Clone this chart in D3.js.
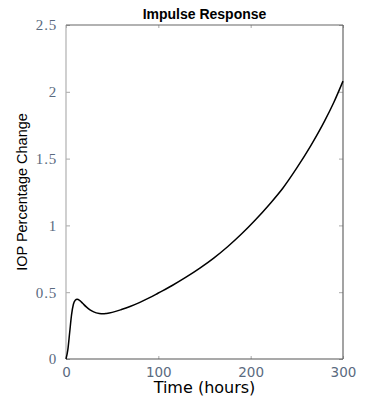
<!DOCTYPE html>
<html lang="en">
<head>
<meta charset="UTF-8">
<title>Impulse Response</title>
<script src="https://d3js.org/d3.v7.min.js"></script>
<style>
  body { margin: 0; background: #fff; }
</style>
</head>
<body>
<div id="impulse"></div>
<script>
// values
var timeHours = [0, 2, 4, 6, 8, 10, 12, 15, 18, 22, 26, 30, 36, 40, 44, 50, 60, 70, 80, 90, 100,
                 115, 130, 145, 160, 175, 190, 205, 220, 235, 250, 265, 280, 290, 300];
var iopChange = [0, 0.07, 0.2, 0.33, 0.41, 0.44, 0.447, 0.437, 0.417, 0.39, 0.368, 0.353, 0.341, 0.338,
                 0.341, 0.349, 0.37, 0.395, 0.424, 0.457, 0.494, 0.55, 0.612, 0.68, 0.755, 0.84, 0.935,
                 1.04, 1.155, 1.28, 1.43, 1.595, 1.78, 1.92, 2.08];
var xTicks = [0, 100, 200, 300];
var yTicks = [0, 0.5, 1, 1.5, 2, 2.5];
var yTickLabels = ["0", "0.5", "1", "1.5", "2", "2.5"];

var margin = {top: 25, right: 22, bottom: 43, left: 66},
    width = 365 - margin.left - margin.right,
    height = 402 - margin.top - margin.bottom;

var svg = d3.select("#impulse")
  .append("svg")
    .attr("width", 365)
    .attr("height", 402)
  .append("g")
    .attr("transform", "translate(" + margin.left + "," + margin.top + ")");

var x = d3.scaleLinear().domain([0, 300]).range([0, width]);
var y = d3.scaleLinear().domain([0, 2.5]).range([height, 0]);

// left axis (labels, serif)
var leftAxis = svg.append("g")
  .call(d3.axisLeft(y).tickValues(yTicks).tickSize(-4).tickPadding(9)
    .tickFormat(function(d, i) { return yTickLabels[i]; }));
leftAxis.select(".domain").remove();
leftAxis.selectAll("line").attr("stroke", "#a8a8a8");
leftAxis.selectAll("text")
  .attr("fill", "#5a6a80")
  .style("font-family", "'Liberation Serif', serif")
  .style("font-size", "15px")
  .style("letter-spacing", "0.8px");

// bottom axis (labels, sans)
var bottomAxis = svg.append("g")
  .attr("transform", "translate(0," + height + ")")
  .call(d3.axisBottom(x).tickValues(xTicks).tickSize(-3).tickPadding(8));
bottomAxis.select(".domain").remove();
bottomAxis.selectAll("line").attr("stroke", "#a8a8a8");
bottomAxis.selectAll("text")
  .attr("fill", "#5a6a80")
  .style("font-family", "'DejaVu Sans', sans-serif")
  .style("font-size", "13.5px");

// top and right ticks only
var topAxis = svg.append("g")
  .call(d3.axisTop(x).tickValues(xTicks).tickSize(-3).tickFormat(""));
topAxis.select(".domain").remove();
topAxis.selectAll("line").attr("stroke", "#a8a8a8");

var rightAxis = svg.append("g")
  .attr("transform", "translate(" + width + ",0)")
  .call(d3.axisRight(y).tickValues(yTicks).tickSize(-4).tickFormat(""));
rightAxis.select(".domain").remove();
rightAxis.selectAll("line").attr("stroke", "#a8a8a8");

// frame
svg.append("line").attr("x1", 0).attr("x2", 0).attr("y1", 0).attr("y2", height)
  .attr("stroke", "#b0b0b0").attr("stroke-width", 1.2);
svg.append("line").attr("x1", 0).attr("x2", width).attr("y1", height).attr("y2", height)
  .attr("stroke", "#555").attr("stroke-width", 1.2);
svg.append("line").attr("x1", 0).attr("x2", width).attr("y1", 0).attr("y2", 0)
  .attr("stroke", "#666").attr("stroke-width", 1.2);
svg.append("line").attr("x1", width).attr("x2", width).attr("y1", 0).attr("y2", height)
  .attr("stroke", "#666").attr("stroke-width", 1.2);

// curve
var line = d3.line()
  .x(function(d, i) { return x(timeHours[i]); })
  .y(function(d) { return y(d); })
  .curve(d3.curveMonotoneX);

svg.append("path")
  .datum(iopChange)
  .attr("fill", "none")
  .attr("stroke", "#000")
  .attr("stroke-width", 1.5)
  .attr("d", line);

// title and axis labels
svg.append("text")
  .attr("x", width / 2)
  .attr("y", -6)
  .attr("text-anchor", "middle")
  .style("font-family", "'Liberation Sans', Arial, sans-serif")
  .style("font-weight", "bold")
  .style("font-size", "14px")
  .text("Impulse Response");

svg.append("text")
  .attr("x", width / 2)
  .attr("y", height + 34)
  .attr("text-anchor", "middle")
  .style("font-family", "'DejaVu Sans', sans-serif")
  .style("font-size", "16px")
  .text("Time (hours)");

svg.append("text")
  .attr("transform", "translate(" + (-39) + "," + (height / 2) + ") rotate(-90)")
  .attr("text-anchor", "middle")
  .style("font-family", "'Liberation Sans', Arial, sans-serif")
  .style("font-size", "14.5px")
  .text("IOP Percentage Change");
</script>
</body>
</html>
